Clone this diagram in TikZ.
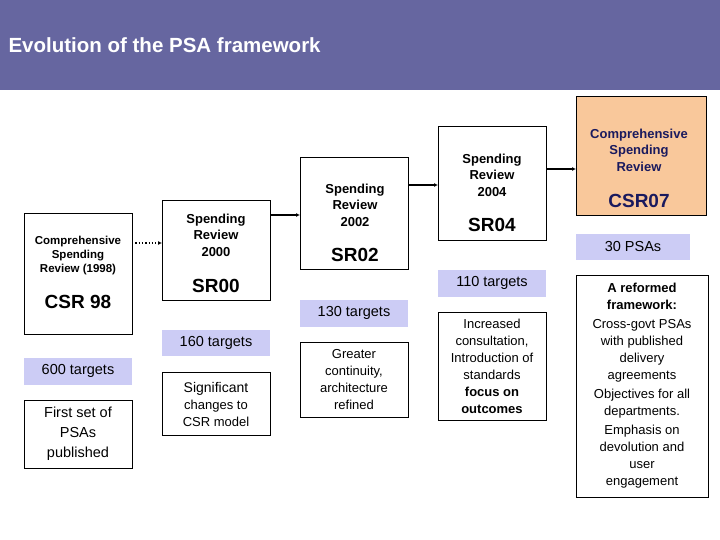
\documentclass[tikz,border=0pt]{standalone}
\usepackage{fontspec}
\setmainfont{Liberation Sans}
\usetikzlibrary{arrows.meta}
\definecolor{bar}{HTML}{6666A0}
\definecolor{tgt}{HTML}{CCCCF5}
\definecolor{org}{HTML}{F9C89B}
\definecolor{navy}{HTML}{1A1A5E}
\begin{document}
\begin{tikzpicture}[x=1pt,y=-1pt,
 box/.style={draw,line width=0.8pt,inner sep=0pt},
 tg/.style={fill=tgt,inner sep=0pt,font=\fontsize{14.5}{16}\selectfont},
 hd/.style={font=\bfseries\fontsize{13}{16.5}\selectfont,align=center},
 big/.style={font=\bfseries\fontsize{19}{20}\selectfont},
 body/.style={font=\fontsize{13}{17}\selectfont,align=center},
 arr/.style={line width=1.3pt,-{Latex[length=4pt,width=4pt]}}]
\useasboundingbox (0,0) rectangle (720,540);
\fill[bar] (0,0) rectangle (720,90);
\node[anchor=west,text=white,font=\bfseries\fontsize{20.5}{24}\selectfont] (title) at (5,45) {Evolution of the PSA framework};
% main boxes
\draw[box] (24,213) rectangle (132,334); \coordinate (b1r) at (132,243);
\node[hd,font=\bfseries\fontsize{11.5}{14}\selectfont] (t1) at (78,256) {Comprehensive\\Spending\\Review (1998)};
\node[big] (l1) at (78,302) {CSR 98};
\draw[box] (162,200) rectangle (270,300);
\coordinate (b2l) at (162,243); \coordinate (b2r) at (270,215);
\node[hd] (t2) at (216,235) {Spending\\Review\\2000};
\node[big] (l2) at (216,286) {SR00};
\draw[box] (300,157) rectangle (408,269);
\coordinate (b3l) at (300,215); \coordinate (b3r) at (408,185);
\node[hd] (t3) at (355,205) {Spending\\Review\\2002};
\node[big] (l3) at (355,255) {SR02};
\draw[box] (438,126) rectangle (546,240);
\coordinate (b4l) at (438,185); \coordinate (b4r) at (546,169);
\node[hd] (t4) at (492,175) {Spending\\Review\\2004};
\node[big] (l4) at (492,225) {SR04};
\draw[box,fill=org] (576,96) rectangle (706,215);
\coordinate (b5l) at (576,169);
\node[hd,text=navy] (t5) at (639,150) {Comprehensive\\Spending\\Review};
\node[big,text=navy] (l5) at (639,201) {CSR07};
\draw[line width=1.3pt,dotted,-{Latex[length=4pt,width=4pt]}] (b1r) -- (b2l);
\draw[arr] (b2r) -- (b3l);
\draw[arr] (b3r) -- (b4l);
\draw[arr] (b4r) -- (b5l);
% targets
\node[tg,minimum width=108pt,minimum height=27pt] (g1) at (78,371) {600 targets};
\node[tg,minimum width=108pt,minimum height=26pt] (g2) at (216,343) {160 targets};
\node[tg,minimum width=108pt,minimum height=27pt] (g3) at (354,313) {130 targets};
\node[tg,minimum width=108pt,minimum height=27pt] (g4) at (492,283) {110 targets};
\node[tg,minimum width=114pt,minimum height=26pt] (g5) at (633,247) {30 PSAs};
% text boxes
\draw[box,line width=0.6pt] (24,400) rectangle (132,468);
\node[body,font=\fontsize{14.5}{20}\selectfont] (d1) at (78,434) {First set of\\PSAs\\published};
\draw[box,line width=0.6pt] (162,372) rectangle (270,435);
\node[body] (d2) at (216,404) {\fontsize{14}{17}\selectfont Significant\\changes to\\CSR model};
\draw[box,line width=0.6pt] (300,342) rectangle (408,417);
\node[body] (d3) at (354,380) {Greater\\continuity,\\architecture\\refined};
\draw[box,line width=0.6pt] (438,312) rectangle (546,420);
\node[body] (d4) at (492,366) {Increased\\consultation,\\Introduction of\\standards\\\textbf{focus on}\\\textbf{outcomes}};
\draw[box,line width=0.6pt] (576,275) rectangle (708,497);
\node[body,anchor=north] (d5) at (642,280) {\textbf{A reformed}\\\textbf{framework:}\\[2pt]Cross-govt PSAs\\with published\\delivery\\agreements\\[2pt]Objectives for all\\departments.\\[2pt]Emphasis on\\devolution and\\user\\engagement};
\end{tikzpicture}
\end{document}
